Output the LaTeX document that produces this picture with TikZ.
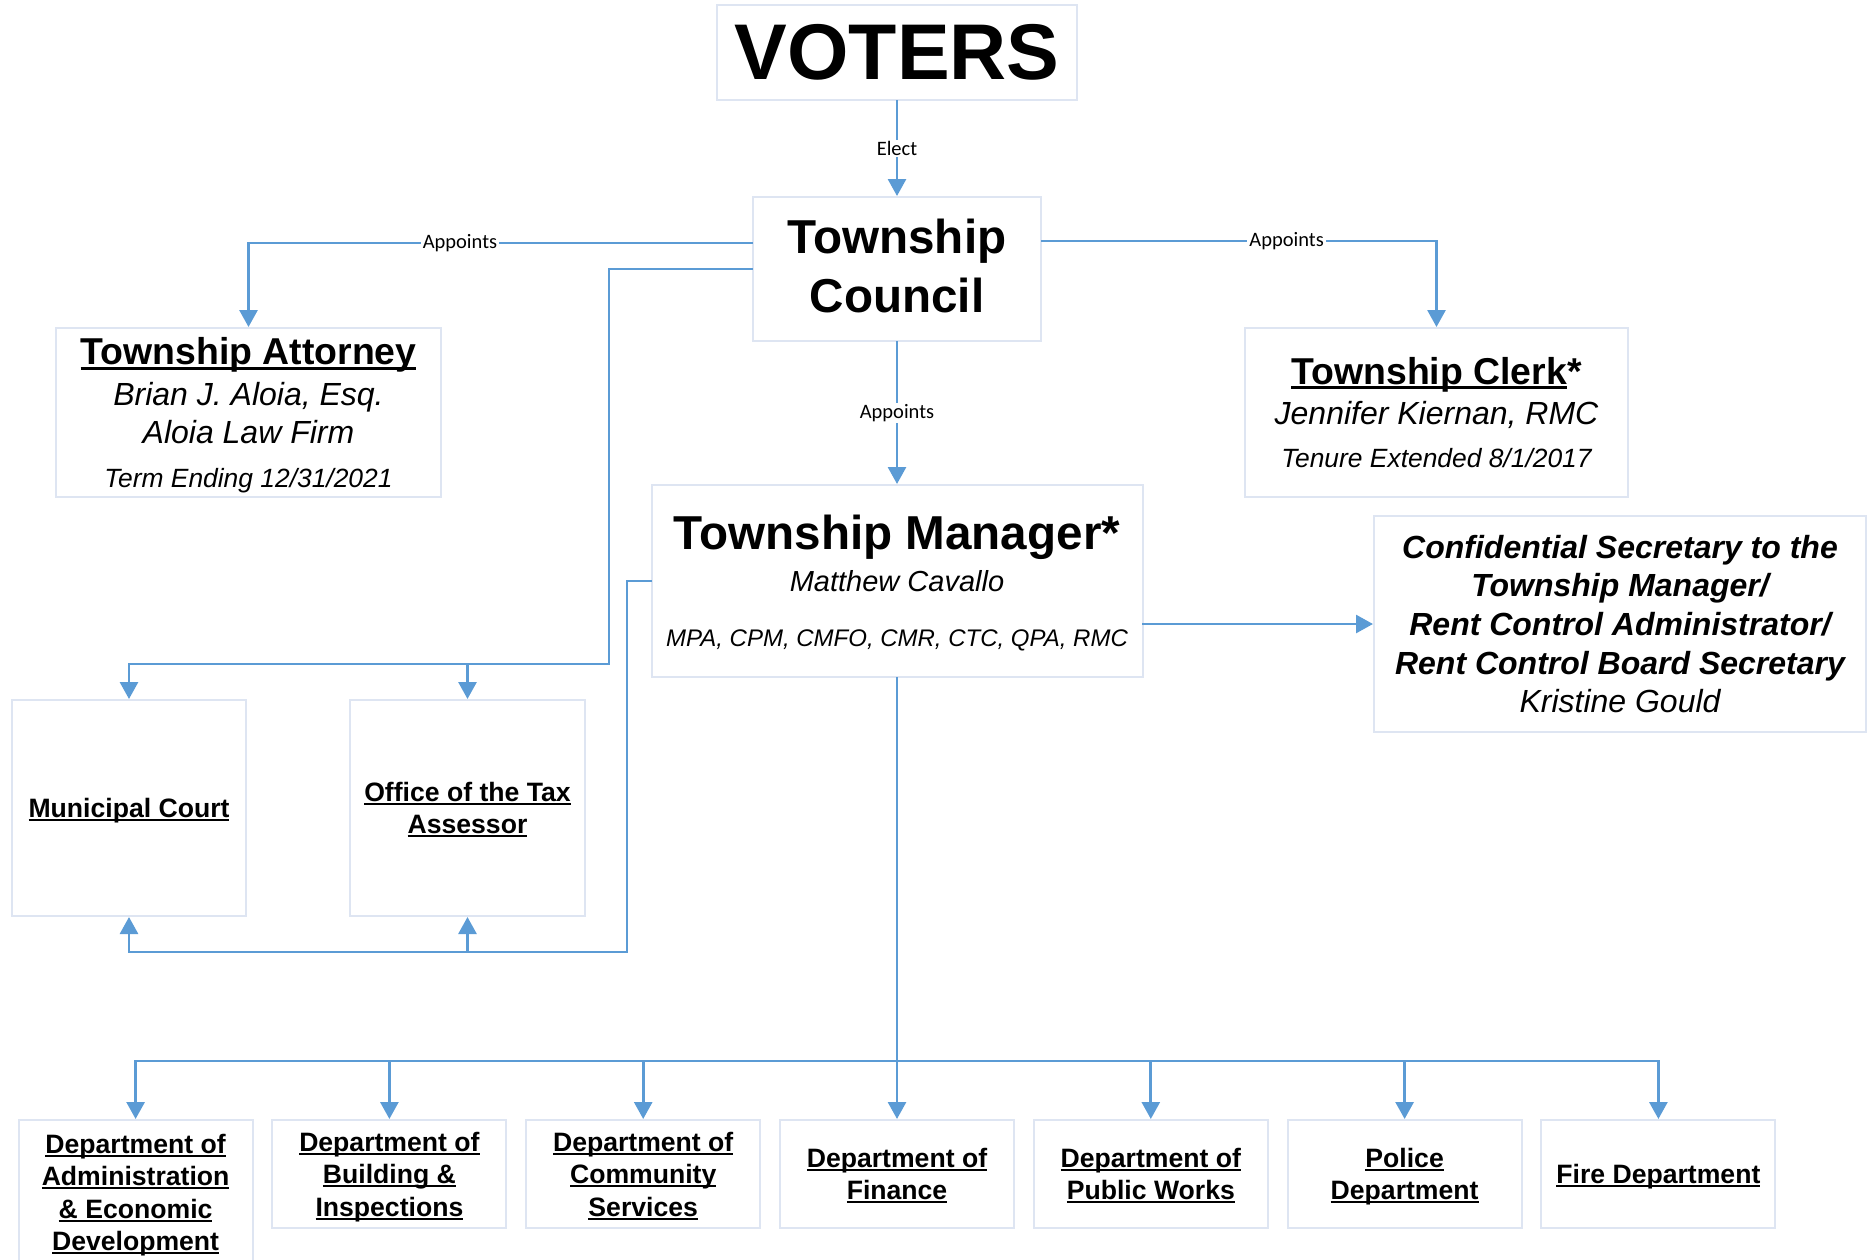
\documentclass[tikz,border=0pt]{standalone}
\usepackage{fontspec}
\setmainfont{Liberation Sans}
\newfontfamily\lblfont{Carlito}
\usetikzlibrary{arrows.meta}

\definecolor{linkblue}{RGB}{91,155,213}
\definecolor{boxline}{RGB}{222,229,242}

\newsavebox\undlbox
\newcommand\undl[1]{\sbox\undlbox{#1}\rlap{\rule[-0.13em]{\wd\undlbox}{0.075em}}\usebox\undlbox}

\begin{document}
\begin{tikzpicture}[x=1pt,y=-1pt,
    >={Triangle[length=17pt,width=18pt]},
    orgbox/.style={draw=boxline,line width=2pt,fill=white,align=center,inner sep=0pt},
    dept/.style={orgbox,minimum width=234pt,minimum height=108pt,text depth=0pt,font=\bfseries\fontsize{26.6}{32.5}\selectfont},
    edgeline/.style={draw=linkblue,line width=2.8pt,line cap=rect},
    conn/.style={edgeline,->},
    lbl/.style={fill=white,text=black,inner xsep=2pt,inner ysep=1pt,font=\lblfont\fontsize{20.5}{24}\selectfont}]
            \useasboundingbox (0,0) rectangle (1873,1259);

            \node[orgbox,minimum width=360pt,minimum height=95pt,font=\bfseries\fontsize{79}{90}\selectfont] (voters) at (897,52.5) {VOTERS};
            \node[orgbox,minimum width=288pt,minimum height=144pt,text depth=6pt,font=\bfseries\fontsize{47.6}{59}\selectfont] (council) at (897,269) {Township\\Council};
            \node[orgbox,minimum width=385pt,minimum height=169pt,text depth=0pt,font=\fontsize{32}{38}\selectfont] (attorney) at (248.5,412.5)
                {{\bfseries\fontsize{37.4}{38}\selectfont\undl{Township Attorney}}\\[2.5pt]
                 {\itshape Brian J. Aloia, Esq.}\\
                 {\itshape Aloia Law Firm}\\[6pt]
                 {\itshape\fontsize{26.4}{30}\selectfont Term Ending 12/31/2021}};
            \node[orgbox,minimum width=383pt,minimum height=169pt,font=\fontsize{32}{40}\selectfont] (clerk) at (1436.5,412.5)
                {{\bfseries\fontsize{37.4}{40}\selectfont\undl{Township Clerk}*}\\
                 {\itshape Jennifer Kiernan, RMC}\\[3pt]
                 {\itshape\fontsize{26.4}{30}\selectfont Tenure Extended 8/1/2017}};
            \node[orgbox,minimum width=491pt,minimum height=192pt,text depth=0pt,font=\fontsize{29}{42}\selectfont] (manager) at (897,581)
                {{\bfseries\fontsize{47.6}{42}\selectfont Township Manager*}\\
                 {\itshape Matthew Cavallo}\\[13pt]
                 {\itshape\fontsize{24}{28}\selectfont MPA, CPM, CMFO, CMR, CTC, QPA, RMC}};
            \node[orgbox,minimum width=492pt,minimum height=216pt,font=\bfseries\itshape\fontsize{32}{38.6}\selectfont] (confsec) at (1620,624)
                {Confidential Secretary to the\\Township Manager/\\Rent Control Administrator/\\Rent Control Board Secretary\\{\mdseries Kristine Gould}};

            \node[orgbox,minimum width=234pt,minimum height=216pt,text depth=0pt,font=\bfseries\fontsize{26.6}{32}\selectfont] (court) at (129,808) {\undl{Municipal Court}};
            \node[orgbox,minimum width=235pt,minimum height=216pt,text depth=0pt,font=\bfseries\fontsize{26.6}{32}\selectfont] (taxoff) at (467.5,808) {\undl{Office of the Tax}\\\undl{Assessor}};

            \node[dept,minimum height=145pt] (dadmin) at (135.6,1192.5) {\undl{Department of}\\\undl{Administration}\\\undl{\& Economic}\\\undl{Development}};
            \node[dept] (dbuild) at (389.4,1174) {\undl{Department of}\\\undl{Building \&}\\\undl{Inspections}};
            \node[dept] (dcomm) at (643.2,1174) {\undl{Department of}\\\undl{Community}\\\undl{Services}};
            \node[dept] (dfin) at (897,1174) {\undl{Department of}\\\undl{Finance}};
            \node[dept] (dpw) at (1150.8,1174) {\undl{Department of}\\\undl{Public Works}};
            \node[dept] (dpol) at (1404.6,1174) {\undl{Police}\\\undl{Department}};
            \node[dept] (dfire) at (1658.4,1174) {\undl{Fire Department}};

            \coordinate (topbus) at (609,664);
            \coordinate (botbus) at (627,952);
            \coordinate (deptbus) at (897,1061);

            \draw[conn] (voters) to node[lbl] (lblelect) {Elect} (council);
            \draw[conn] (council.west |- 0,243) -| node[lbl,pos=0.29] (lblatty) {Appoints} (attorney.north);
            \draw[conn] (council.east |- 0,241) -| node[lbl,pos=0.31] (lblclerk) {Appoints} (clerk.north);
            \draw[conn] (council) to node[lbl] (lblmgr) {Appoints} (manager);
            \draw[conn] (manager.east |- confsec.west) to (confsec.west);

            \draw[conn] (council.west) -| (topbus) -| (court.north);
            \draw[conn] (taxoff.north |- topbus) to (taxoff.north);
            \draw[conn] (manager.west) -| (botbus) -| (court.south);
            \draw[conn] (taxoff.south |- botbus) to (taxoff.south);

            \draw[edgeline] (dadmin.north |- deptbus) -- (dfire.north |- deptbus);
            \draw[conn] (manager) to (dfin);
            \draw[conn] (dadmin.north |- deptbus) to (dadmin.north);
            \draw[conn] (dbuild.north |- deptbus) to (dbuild.north);
            \draw[conn] (dcomm.north |- deptbus) to (dcomm.north);
            \draw[conn] (dpw.north |- deptbus) to (dpw.north);
            \draw[conn] (dpol.north |- deptbus) to (dpol.north);
            \draw[conn] (dfire.north |- deptbus) to (dfire.north);
        \end{tikzpicture}
\end{document}
